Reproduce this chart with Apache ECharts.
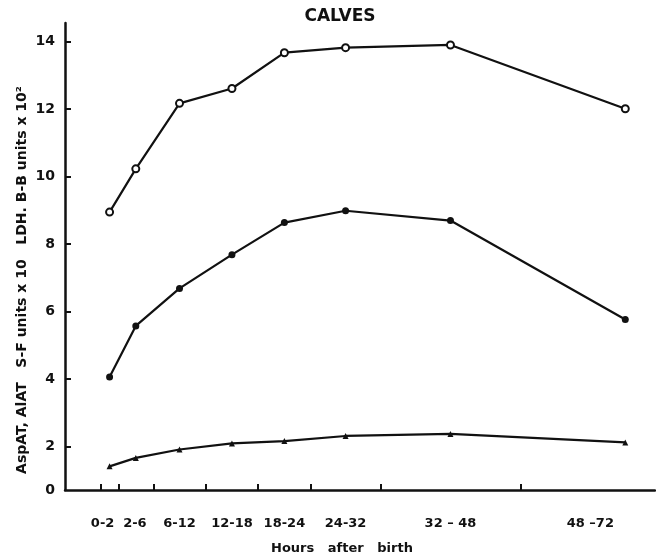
<!DOCTYPE html>
<html>
<head>
<meta charset="utf-8">
<script src="https://cdn.jsdelivr.net/npm/echarts@6/dist/echarts.min.js"></script>
<style>html,body{margin:0;padding:0;background:#fff}#c{width:656px;height:560px}</style>
</head>
<body>
<div id="c"></div>
<script>
// Categories (time intervals, hours after birth) and their midpoints (hours)
const timeLabels = ['0-2', '2-6', '6-12', '12-18', '18-24', '24-32', '32 \u2013 48', '48 \u201372'];
const timeMidHours = [1, 4, 9, 15, 21, 28, 40, 60];
const labelHours = [0.2, 3.9, 9, 15, 21, 28, 40, 56];
const intervalBounds = [0, 2, 6, 12, 18, 24, 32, 48];

// Series values
const ldh = [8.95, 10.23, 12.17, 12.61, 13.67, 13.82, 13.9, 12.01];   // LDH, B-B units x 10^2
const sf = [4.07, 5.58, 6.69, 7.69, 8.64, 8.99, 8.70, 5.77];          // S-F units x 10
const aspat = [1.42, 1.67, 1.92, 2.1, 2.17, 2.32, 2.38, 2.13];       // AspAT, AlAT

// Y tick labels
const yTickValues = [2, 4, 6, 8, 10, 12, 14];
const yZeroLabel = '0';

const Y_MIN = 0.72, Y_MAX = 14.55;
const X_MIN = -4.1, X_MAX = 63.4;
const FONT = 'DejaVu Sans';

const pairs = arr => arr.map((v, i) => [timeMidHours[i], v]);
const lineStyle = { color: '#111', width: 2.2 };

const chart = echarts.init(document.getElementById('c'), null, { renderer: 'canvas' });
chart.setOption({
  animation: false,
  backgroundColor: '#fff',
  grid: { left: 65, right: 1, top: 23, bottom: 70, containLabel: false },
  xAxis: {
    type: 'value', min: X_MIN, max: X_MAX,
    splitLine: { show: false },
    axisLine: { onZero: false, lineStyle: { color: '#111', width: 2.5 } },
    axisTick: { show: true, inside: true, length: 6, customValues: intervalBounds, lineStyle: { color: '#111', width: 2 } },
    axisLabel: {
      customValues: labelHours,
      margin: 27,
      color: '#111', fontFamily: FONT, fontWeight: 'bold', fontSize: 13,
      formatter: v => { const i = labelHours.indexOf(v); return i >= 0 ? timeLabels[i] : ''; }
    }
  },
  yAxis: {
    type: 'value', min: Y_MIN, max: Y_MAX,
    splitLine: { show: false },
    axisLine: { onZero: false, lineStyle: { color: '#111', width: 2.5 } },
    axisTick: { show: true, inside: true, length: 6, customValues: yTickValues, lineStyle: { color: '#111', width: 2 } },
    axisLabel: {
      customValues: [Y_MIN].concat(yTickValues),
      margin: 10,
      color: '#111', fontFamily: FONT, fontWeight: 'bold', fontSize: 14,
      formatter: v => (v < 1 ? yZeroLabel : String(Math.round(v)))
    }
  },
  graphic: [
    { type: 'text', x: 340, y: 17, style: { text: 'CALVES', fill: '#111', font: 'bold 17px "DejaVu Sans"', textAlign: 'center', textVerticalAlign: 'middle' } },
    { type: 'text', x: 342, y: 549, style: { text: 'Hours   after   birth', fill: '#111', font: 'bold 13px "DejaVu Sans"', textAlign: 'center', textVerticalAlign: 'middle' } },
    { type: 'text', x: 22, y: 280, rotation: Math.PI / 2,
      style: { text: 'AspAT, AlAT   S-F units x 10   LDH. B-B units x 10\u00B2', fill: '#111', font: 'bold 14px "DejaVu Sans"', textAlign: 'center', textVerticalAlign: 'middle' } }
  ],
  series: [
    { name: 'LDH', type: 'line', data: pairs(ldh), symbol: 'circle', symbolSize: 7,
      itemStyle: { color: '#fff', borderColor: '#111', borderWidth: 2 }, lineStyle },
    { name: 'S-F', type: 'line', data: pairs(sf), symbol: 'circle', symbolSize: 7,
      itemStyle: { color: '#111' }, lineStyle },
    { name: 'AspAT', type: 'line', data: pairs(aspat), symbol: 'triangle', symbolSize: 6,
      itemStyle: { color: '#111' }, lineStyle }
  ]
});
</script>
</body>
</html>
